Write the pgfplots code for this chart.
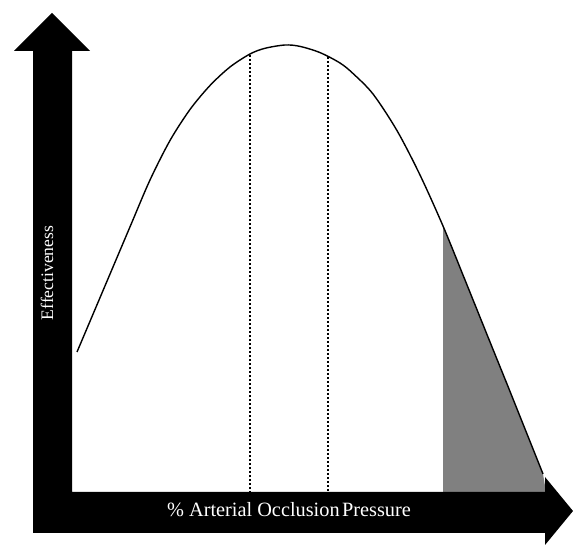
\documentclass[border=0pt]{standalone}
\usepackage{fontspec}
\setmainfont{Liberation Serif}
\usepackage{pgfplots}
\pgfplotsset{compat=1.18}
\begin{document}
\begin{tikzpicture}
\begin{axis}[
  width=573pt, height=545pt, scale only axis,
  xmin=0, xmax=573, ymin=0, ymax=545,
  hide axis, clip=false,
]
% shaded region
\addplot[fill=black!50, draw=none] coordinates {(443,319) (465,265) (490,203) (507,161) (525,116) (543,71) (546,53) (443,53)} -- cycle;
% dotted lines
\addplot[black, line width=2.2pt, dash pattern=on 2pt off 2pt] coordinates {(250,490) (250,53)};
\addplot[black, line width=2.2pt, dash pattern=on 2pt off 2pt] coordinates {(328,488) (328,53)};
% curve
\addplot[black, line width=1.4pt, smooth] coordinates {
(77,193) (95,235.5) (113,278) (131,320.5) (150,365) (170,404.5) (190,435.5) (210,459.5)
(230,478) (250,491) (265,496.7) (285,500) (300,498.6) (320,492.4) (340,482) (353,471.5)
(373,451) (397,414.4) (420,370) (443,319) (465,265) (490,203) (507,161) (525,116) (543,71)};
% axes arrows
\addplot[fill=black, draw=none] coordinates {
(33,12) (33,494) (14,494) (52,532) (90,494) (72,494) (72,53) (545,53) (545,68) (573,34) (545,0) (545,12)} -- cycle;
\node[white, rotate=90, anchor=base, font=\fontsize{17.6}{20}\selectfont] at (axis cs:53,272) {Effectiveness};
\node[white, anchor=base, font=\fontsize{20.3}{23}\selectfont] at (axis cs:289,28) {\%~Arterial Occlusion\hspace{0.12em}Pressure};
\end{axis}
\path (0,0) rectangle (573pt,545pt);
\end{tikzpicture}
\end{document}
